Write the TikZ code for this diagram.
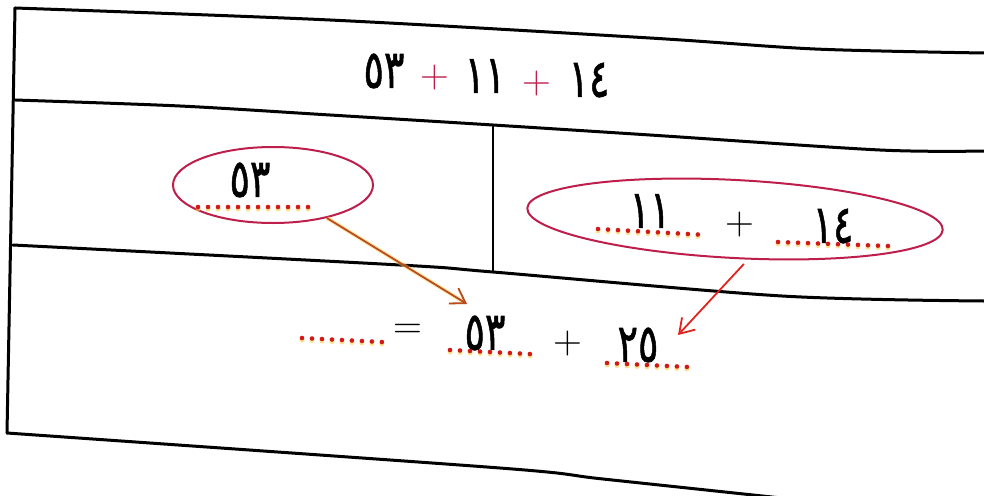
\documentclass[tikz,border=0pt]{standalone}
\usepackage{graphicx}
\usepackage{fontspec}
\newfontfamily\arabicfont[Script=Arabic,FakeBold=1.3]{DejaVu Sans}
\usetikzlibrary{arrows.meta,shapes.geometric}

\definecolor{ink}{RGB}{190,30,75}
\definecolor{arrowbrown}{RGB}{185,75,35}
\definecolor{arrowred}{RGB}{225,35,30}
\definecolor{dotred}{RGB}{210,25,20}
\definecolor{glow}{RGB}{255,205,70}
\newcommand{\hand}[1]{\scalebox{1}[1.4]{#1}}

\begin{document}
\begin{tikzpicture}[x=1pt,y=-1pt,
  rule/.style={draw=black,line width=3pt,line cap=round,line join=round},
  num/.style={font=\arabicfont\fontsize{38}{40}\selectfont,inner sep=0pt},
  sym/.style={font=\fontsize{40}{40}\selectfont,inner sep=0pt},
  ring/.style={ellipse,draw=ink,line width=2pt,inner sep=0pt},
  dotline/.style={draw=dotred,line width=4.6pt,line cap=round,dash pattern=on 0pt off 10pt,
    preaction={draw=glow,line width=5pt,opacity=.6,line cap=round,dash pattern=on 0pt off 10pt,
      transform canvas={yshift=-2pt}}},
  feed/.style={line width=1.8pt,-{Straight Barb[length=14pt,width=18pt,line width=1.8pt]}}]
  \clip (0,0) rectangle (984,495);

  % table lines
  \draw[rule] plot[smooth,tension=.5] coordinates {(15,8) (330,20) (650,38) (815,49) (984,53)};
  \draw[rule] plot[smooth,tension=.5] coordinates {(15,100) (180,106) (330,115) (493,125) (650,135) (880,150) (984,151)};
  \draw[rule] plot[smooth,tension=.5] coordinates {(13,245) (400,265) (493,272) (782,296) (984,301)};
  \draw[rule] plot[smooth,tension=.5] coordinates {(7,433) (500,468) (603,479) (800,500)};
  \draw[rule] (15,8) -- (7,433);
  \draw[rule,line width=1.8pt] (493,125) -- (493,272);

  % header sum
  \node[num] (h53) at (384,71) {\hand{٥٣}};
  \node[sym,text=ink] (hp1) at (435,78) {+};
  \node[num] (h11) at (485,76) {\hand{١١}};
  \node[sym,text=ink] (hp2) at (537,84) {+};
  \node[num] (h14) at (589,80) {\hand{١٤}};

  % left cell
  \node[ring,minimum width=200,minimum height=76] (e1) at (273,185) {};
  \node[num] (n53) at (250,180) {\hand{٥٣}};
  \draw[dotline] (198,207) -- (310,207);

  % right cell
  \node[ring,minimum width=416,minimum height=78,rotate=-3] (e2) at (735,219) {};
  \node[num] (n11) at (650,211) {\hand{١١}};
  \node[sym] (np) at (740,225) {+};
  \node[num] (n14) at (833,226) {\hand{١٤}};
  \draw[dotline] (598,229) -- (707,235);
  \draw[dotline] (778,242) -- (888,246);

  % bottom row
  \draw[dotline] (302,338) -- (382,342);
  \node[sym] (eq) at (408,331) {=};
  \node[num] (b53) at (485,333) {\hand{٥٣}};
  \draw[dotline] (450,350) -- (530,354);
  \node[sym] (bp) at (568,344) {+};
  \node[num] (b25) at (638,345) {\hand{٢٥}};
  \draw[dotline] (607,363) -- (688,367);

  % carries
  \draw[feed,draw=arrowbrown,preaction={draw=glow,line width=4pt,opacity=.5}] (e1) -- ([shift={(-18,-29)}]b53.center);
  \draw[feed,draw=arrowred] ([shift={(11,5)}]e2.south) -- ([shift={(40,-10)}]b25.center);
\end{tikzpicture}
\end{document}
